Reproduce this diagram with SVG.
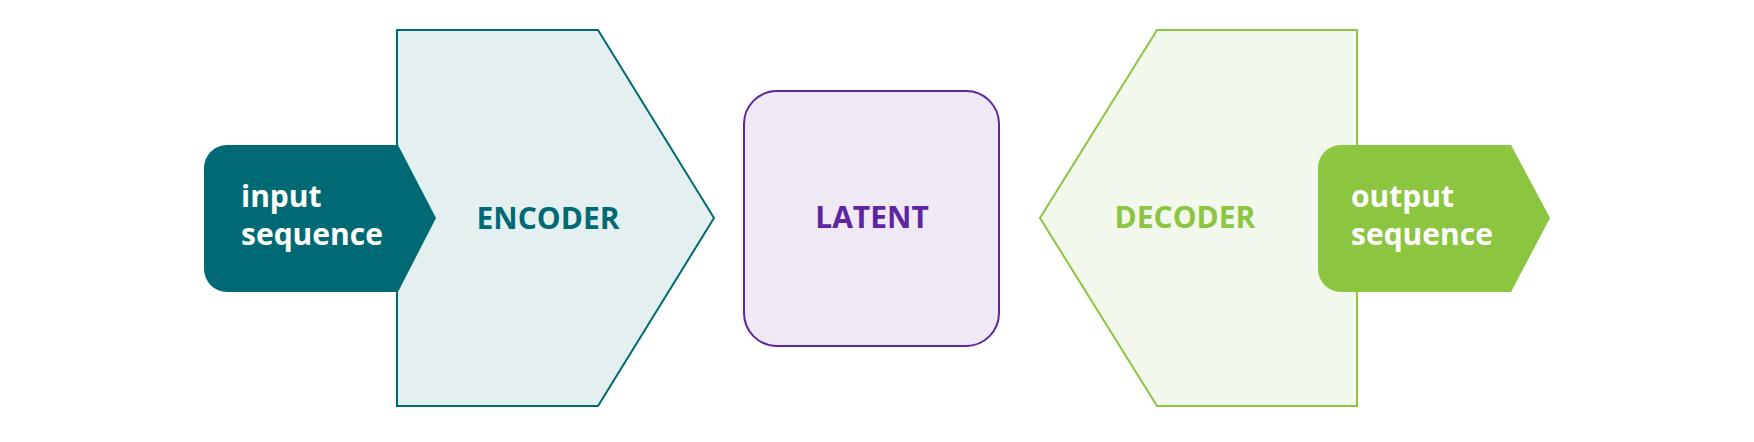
<svg xmlns="http://www.w3.org/2000/svg" width="1754" height="442" viewBox="0 0 1754 442">
<style>
text{font-family:"Open Sans","Liberation Sans",sans-serif;font-weight:700;font-size:30px}
.w{fill:#ffffff}
</style>
<rect width="1754" height="442" fill="#ffffff"/>
<g id="connectors"></g>
<g id="encoder">
<polygon points="397,30 598,30 714,218 598,406 397,406" fill="#e4f0f0" stroke="#006a74" stroke-width="2"/>
<text x="548" y="229" text-anchor="middle" fill="#006a74">ENCODER</text>
</g>
<g id="input">
<path d="M227,145 H398 L436,218 L398,292 H227 A23,23 0 0 1 204,269 V168 A23,23 0 0 1 227,145 Z" fill="#006a74"/>
<text class="w" x="241" y="207">input</text>
<text class="w" x="241" y="245">sequence</text>
</g>
<g id="latent">
<rect x="744" y="91" width="255" height="255" rx="33" fill="#efe8f5" stroke="#5c25a1" stroke-width="2"/>
<text x="872" y="228" text-anchor="middle" fill="#5c25a1">LATENT</text>
</g>
<g id="decoder">
<polygon points="1357,30 1157,30 1040,218 1157,406 1357,406" fill="#f2f8eb" stroke="#8cc540" stroke-width="2"/>
<text x="1185" y="228" text-anchor="middle" fill="#8cc540">DECODER</text>
</g>
<g id="output">
<path d="M1341,145 H1511 L1550,218 L1511,292 H1341 A23,23 0 0 1 1318,269 V168 A23,23 0 0 1 1341,145 Z" fill="#8cc540"/>
<text class="w" x="1351" y="207">output</text>
<text class="w" x="1351" y="245">sequence</text>
</g>
</svg>
